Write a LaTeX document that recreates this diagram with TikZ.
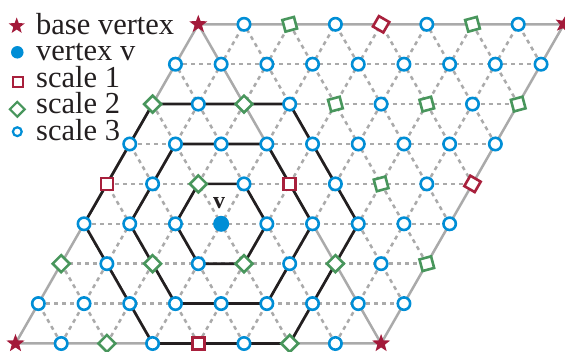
\documentclass[tikz,border=0pt]{standalone}
\usepackage{fontspec}
\setmainfont{Liberation Serif}
\usetikzlibrary{shapes.geometric}
\definecolor{starred}{RGB}{163,26,58}
\definecolor{sqred}{RGB}{168,32,60}
\definecolor{vblue}{RGB}{0,142,214}
\definecolor{dgreen}{RGB}{72,150,92}
\definecolor{lgray}{RGB}{170,170,170}
\definecolor{hexblack}{RGB}{35,31,32}
\definecolor{txt}{RGB}{35,31,32}
\tikzset{
  gridline/.style={lgray, line width=2.5pt, dash pattern=on 4pt off 4pt},
  border/.style={lgray, line width=2.5pt},
  hexline/.style={hexblack, line width=2.7pt, line join=miter},
  basestar/.style={star, star points=5, star point ratio=2.4, fill=starred, draw=none, inner sep=0pt, minimum size=19pt},
  vdot/.style={circle, fill=vblue, inner sep=0pt, minimum size=16pt},
  sthree/.style={circle, draw=vblue, fill=white, line width=2.6pt, inner sep=0pt, minimum size=12.4pt},
  sone/.style={rectangle, draw=sqred, fill=white, line width=2.6pt, inner sep=0pt, minimum size=12pt},
  stwo/.style={rectangle, draw=dgreen, fill=white, line width=2.6pt, inner sep=0pt, minimum size=12pt},
  legtext/.style={anchor=base west, text=txt, font=\fontsize{30.5}{30}\selectfont, inner sep=0pt, text height=20pt, text depth=1pt},
  vlab/.style={text=txt, font=\bfseries\fontsize{24}{24}\selectfont, inner sep=0pt},
}
\begin{document}
\begin{tikzpicture}[x=1pt,y=1pt]
\useasboundingbox (0,0) rectangle (565,352);
% lattice points
\foreach \i in {0,...,8}{
  \foreach \j in {0,...,8}{
    \coordinate (p-\i-\j) at ({15.5+45.7*(\i+\j/2)}, {8.5+39.9*\j});
  }
}
% dashed grid
\foreach \k in {1,...,7}{
  \draw[gridline] (p-0-\k) -- (p-8-\k);
  \draw[gridline] (p-\k-0) -- (p-\k-8);
  \draw[gridline] (p-\k-0) -- (p-0-\k);
  \draw[gridline] (p-8-\k) -- (p-\k-8);
}
% border and diagonal
\draw[border, line join=round] (p-0-0) -- (p-8-0) -- (p-8-8) -- (p-0-8) -- cycle;
\draw[border] (p-8-0) -- (p-0-8);
% hexagons around v
\draw[hexline] (p-4-3) -- (p-3-4) -- (p-2-4) -- (p-2-3) -- (p-3-2) -- (p-4-2) -- cycle;
\draw[hexline] (p-5-3) -- (p-3-5) -- (p-1-5) -- (p-1-3) -- (p-3-1) -- (p-5-1) -- cycle;
\draw[hexline] (p-6-3) -- (p-3-6) -- (p-0-6) -- (p-0-3) -- (p-3-0) -- (p-6-0) -- cycle;
% markers
\foreach \i in {0,...,8}{
  \foreach \j in {0,...,8}{
    \pgfmathtruncatemacro\typ{(1 + (mod(\i,2)==0)*(mod(\j,2)==0) + (mod(\i,4)==0)*(mod(\j,4)==0) + (mod(\i,8)==0)*(mod(\j,8)==0))*(1-(\i==3)*(\j==3))}
    \pgfmathtruncatemacro\rot{(\i+\j>8)*60}
    \pgfmathtruncatemacro\rtd{\rot+45}
    \ifcase\typ
      \node[vdot] (m-\i-\j) at (p-\i-\j) {};
    \or
      \node[sthree] (m-\i-\j) at (p-\i-\j) {};
    \or
      \node[stwo, rotate=\rtd] (m-\i-\j) at (p-\i-\j) {};
    \or
      \node[sone, rotate=\rot] (m-\i-\j) at (p-\i-\j) {};
    \or
      \node[basestar, rotate=\rot] (m-\i-\j) at (p-\i-\j) {};
    \fi
  }
}
\node[vlab] (vlabel) at ([shift={(-2,21)}]p-3-3) {v};
% legend
\node[basestar, minimum size=17pt] (lg1) at (16.7,326) {};
\node[vdot, minimum size=12.5pt] (lg2) at (17.3,299.7) {};
\node[sone, minimum size=10pt, line width=2.2pt] (lg3) at (18.3,270.3) {};
\node[stwo, minimum size=10.5pt, line width=2.2pt, rotate=45] (lg4) at (17.3,242.7) {};
\node[sthree, minimum size=8.8pt, line width=2.2pt] (lg5) at (17.3,220.3) {};
\node[legtext] (t1) at (36,317.5) {base vertex};
\node[legtext] (t2) at (36,291.1) {vertex v};
\node[legtext] (t3) at (36,264.7) {scale 1};
\node[legtext] (t4) at (36,238.3) {scale 2};
\node[legtext] (t5) at (36,211.9) {scale 3};
\end{tikzpicture}
\end{document}
